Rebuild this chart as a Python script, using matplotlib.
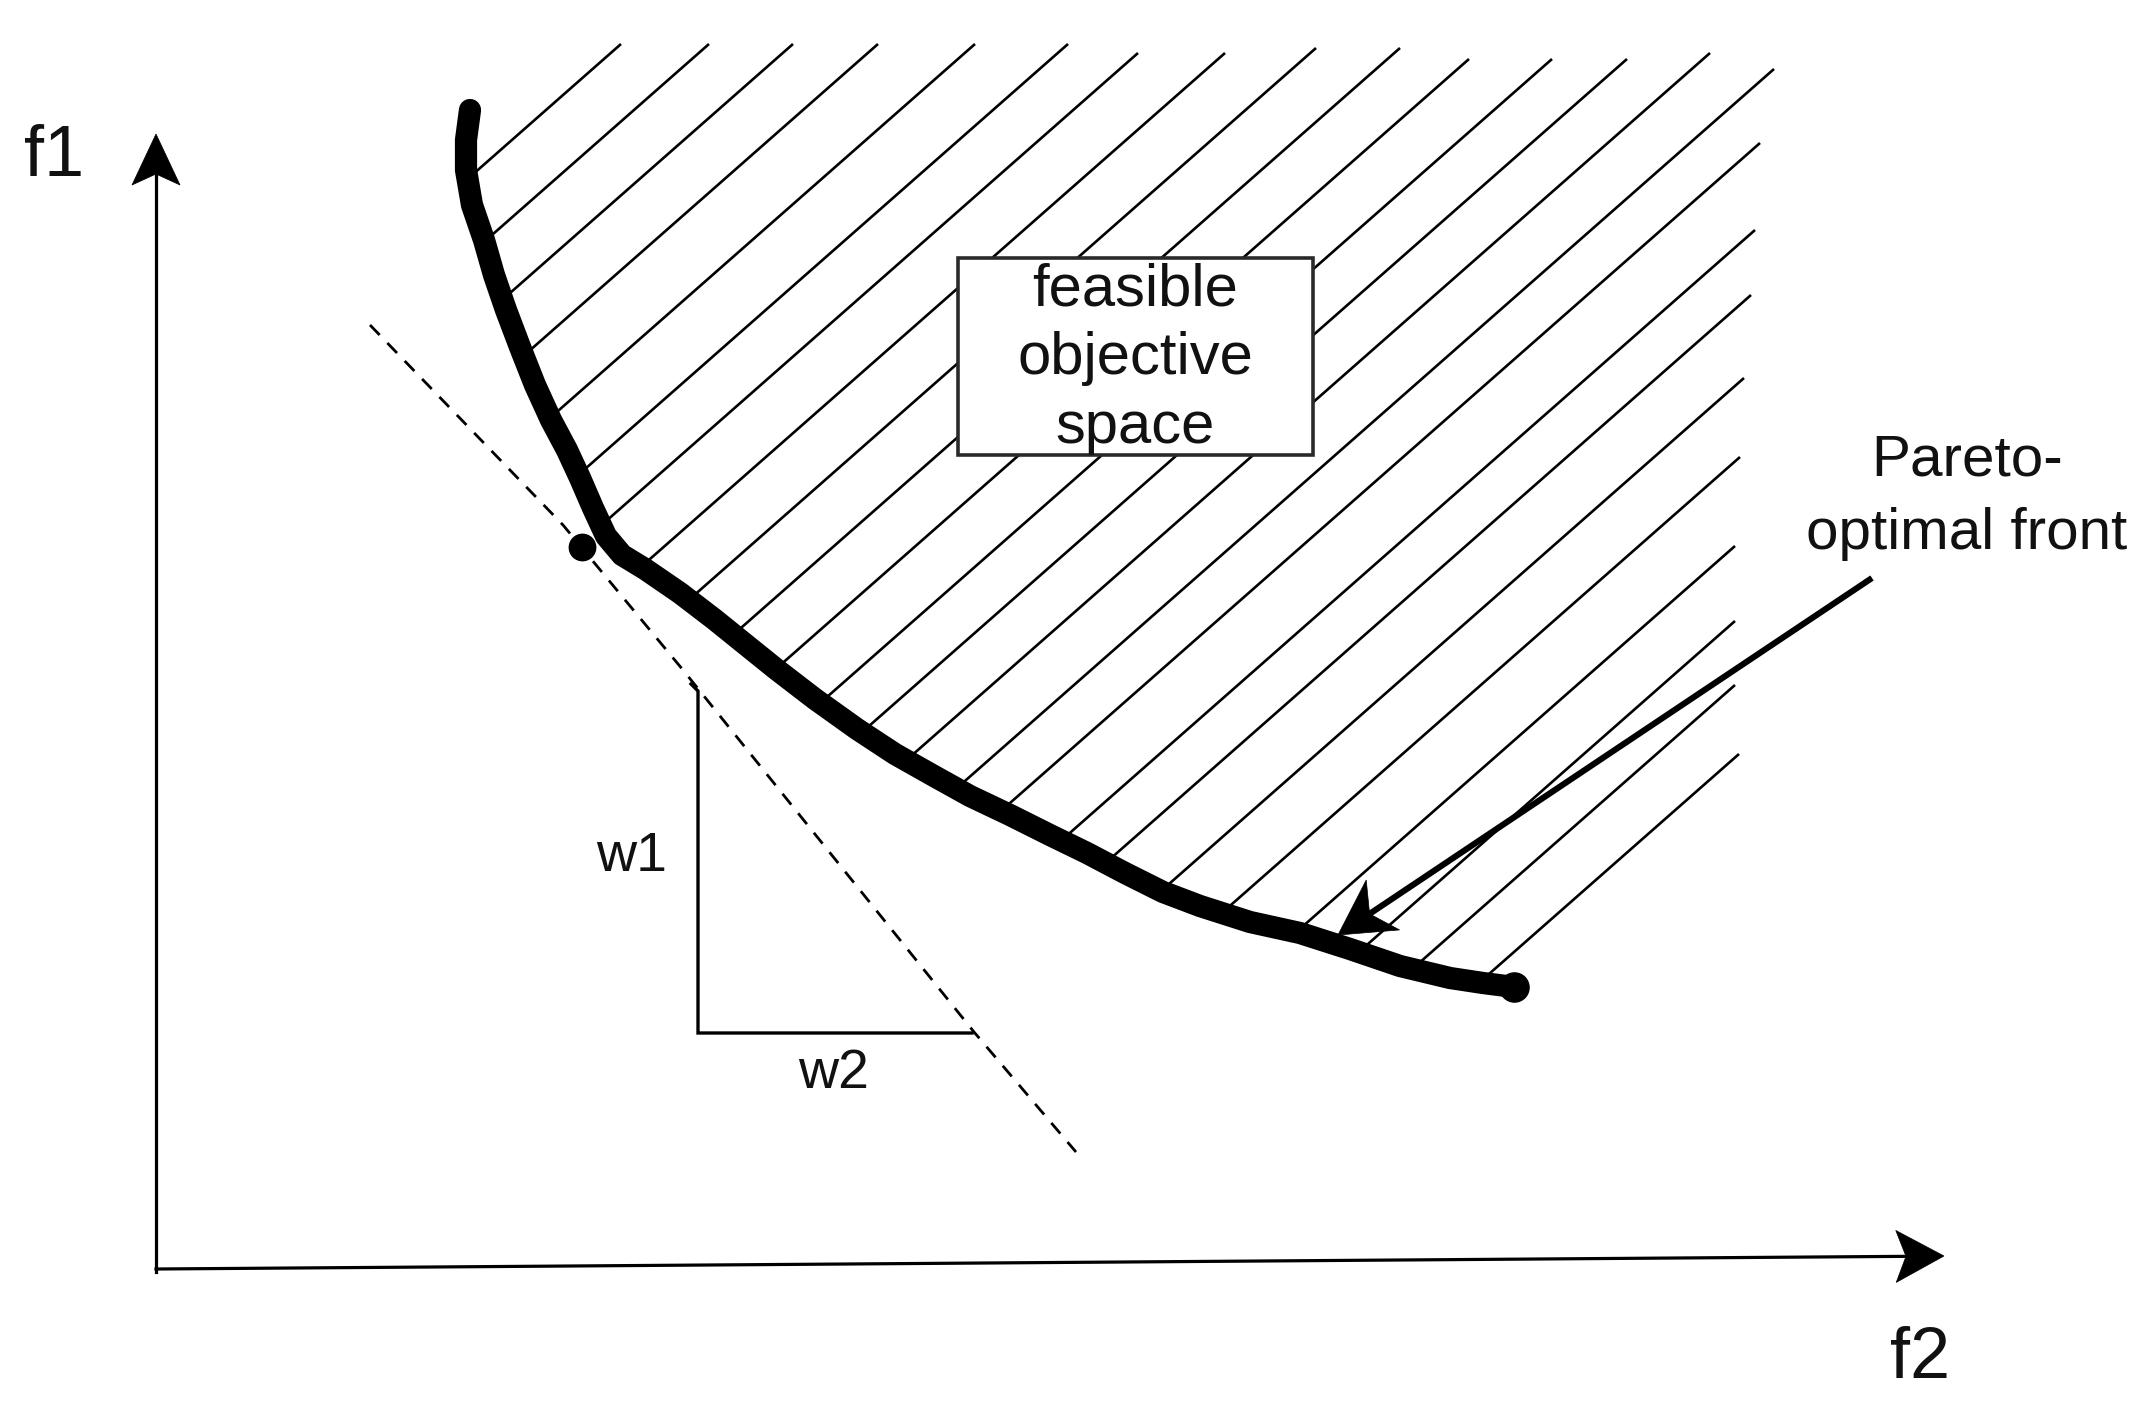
import numpy as np
import matplotlib
matplotlib.use('Agg')
import matplotlib.pyplot as plt
from matplotlib.patches import Polygon, Rectangle

plt.rcParams['font.family'] = ['Liberation Sans', 'DejaVu Sans']

# everything is in pixel units of the 2147 x 1423 picture (y grows downward)
W, H = 2147, 1423

# Pareto-optimal front (thick hand-drawn curve)
front_x = [470, 466, 466, 472, 484, 494, 506, 520, 535, 551, 567, 580, 593, 606, 622, 645,
           680, 714, 745, 776, 815, 857, 895, 934, 970, 1010, 1050, 1087, 1125, 1163,
           1200, 1250, 1300, 1350, 1400, 1450, 1483, 1514]
front_y = [110, 140, 170, 205, 240, 275, 310, 347, 385, 420, 450, 478, 508, 536, 555, 569,
           593, 619, 644, 669, 699, 729, 754, 776, 796, 815, 835, 853, 873, 892,
           906, 922, 933, 949, 966, 978, 983, 987]

# upper ends of the hatch lines (top edge, then right edge)
hatch_x = [621, 709, 793, 878, 975, 1068, 1138, 1225, 1316, 1400, 1469, 1552, 1627, 1710, 1774,
           1760, 1755, 1751, 1744, 1740, 1735, 1735, 1735, 1739]
hatch_y = [44, 44, 44, 44, 44, 44, 53, 53, 48, 48, 59, 59, 59, 53, 69,
           143, 230, 295, 378, 457, 546, 621, 685, 754]
hatch_slope = 0.88

# weighted-sum tangent (dashed) and the w1/w2 triangle
dash_x = [370, 563, 683, 974, 1076]
dash_y = [325, 525, 670, 1032, 1152]
tri_x = [691, 698, 698, 972]
tri_y = [684, 691, 1033, 1033]

# marked point on the front and the rounded end of the front
dot_x = [582]
dot_y = [547]
end_x = [1514]
end_y = [987]

# text box
box_x0, box_y0, box_x1, box_y1 = 958, 258, 1313, 455

# pointer from label to front
pointer_start = (1872, 578)
pointer_tip = (1338, 935)

# coordinate axes
origin = (156, 1272)
f1_tip = (156, 134)
f2_tip = (1944, 1256)

fig = plt.figure(figsize=(W / 100, H / 100), dpi=100)
fig.patch.set_facecolor('white')
ax = fig.add_axes([0, 0, 1, 1])
ax.set_xlim(0, W)
ax.set_ylim(H, 0)
ax.axis('off')


def stealth(tip, back, length, half_w, notch, color='black', z=6):
    tip = np.array(tip, float)
    d = np.array(back, float) - tip
    d /= np.linalg.norm(d)
    n = np.array([-d[1], d[0]])
    pts = [tip, tip + d * length + n * half_w, tip + d * notch, tip + d * length - n * half_w]
    ax.add_patch(Polygon(pts, closed=True, facecolor=color, edgecolor=color, lw=0.5, zorder=z))
    return tip + d * notch


def hit_front(x0, y0):
    best = None
    for i in range(len(front_x) - 1):
        ax_, ay_ = front_x[i], front_y[i]
        bx, by = front_x[i + 1], front_y[i + 1]
        M = np.array([[-1.0, -(bx - ax_)], [hatch_slope, -(by - ay_)]])
        if abs(np.linalg.det(M)) < 1e-9:
            continue
        t, u = np.linalg.solve(M, np.array([ax_ - x0, ay_ - y0], float))
        if 0 <= u <= 1 and t > 0 and (best is None or t < best):
            best = t
    if best is None:
        return None
    return x0 - best, y0 + hatch_slope * best


# hatching of the feasible space
for hx, hy in zip(hatch_x, hatch_y):
    end = hit_front(hx, hy)
    if end is None:
        continue
    ax.plot([hx, end[0]], [hy, end[1]], color='black', lw=1.9, zorder=1,
            solid_capstyle='butt')

# text box covers the hatching
ax.add_patch(Rectangle((box_x0, box_y0), box_x1 - box_x0, box_y1 - box_y0,
                       facecolor='white', edgecolor='#2a2a2a', lw=2.6, zorder=3))
ax.text((box_x0 + box_x1) / 2, (box_y0 + box_y1) / 2 + 2, 'feasible\nobjective\nspace',
        ha='center', va='center', fontsize=43, linespacing=1.32, color='#111111', zorder=4)

# Pareto front
ax.plot(front_x, front_y, color='black', lw=16, solid_capstyle='round',
        solid_joinstyle='round', zorder=5)
ax.plot(dot_x, dot_y, 'o', color='black', markersize=19, zorder=5)
ax.plot(end_x, end_y, 'o', color='black', markersize=21, zorder=5)

# dashed tangent and triangle
ax.plot(dash_x, dash_y, color='black', lw=2.0, dashes=(5, 4), zorder=2)
ax.plot(tri_x, tri_y, color='black', lw=2.4, zorder=2, solid_joinstyle='miter')
ax.text(632, 857, 'w1', ha='center', va='center', fontsize=40, color='#111111')
ax.text(834, 1074, 'w2', ha='center', va='center', fontsize=40, color='#111111')

# label with pointer
ax.text(1967, 497, 'Pareto-\noptimal front', ha='center', va='center', fontsize=42,
        linespacing=1.46, color='#111111')
neck = stealth(pointer_tip, pointer_start, 54, 30, 38, z=7)
ax.plot([pointer_start[0], neck[0]], [pointer_start[1], neck[1]], color='black', lw=4.4,
        solid_capstyle='butt', zorder=7)

# axes with arrowheads
n1 = stealth(f1_tip, origin, 51, 24, 40)
ax.plot([origin[0], n1[0]], [origin[1], n1[1]], color='black', lw=2.3, zorder=6)
n2 = stealth(f2_tip, origin, 48, 26, 38)
ax.plot([origin[0], n2[0]], [origin[1] - 3, n2[1]], color='black', lw=2.3, zorder=6)
ax.text(54, 157, 'f1', ha='center', va='center', fontsize=52, color='#111111')
ax.text(1920, 1360, 'f2', ha='center', va='center', fontsize=52, color='#111111')

plt.savefig('out.png', dpi=100, facecolor='white')
plt.close()
